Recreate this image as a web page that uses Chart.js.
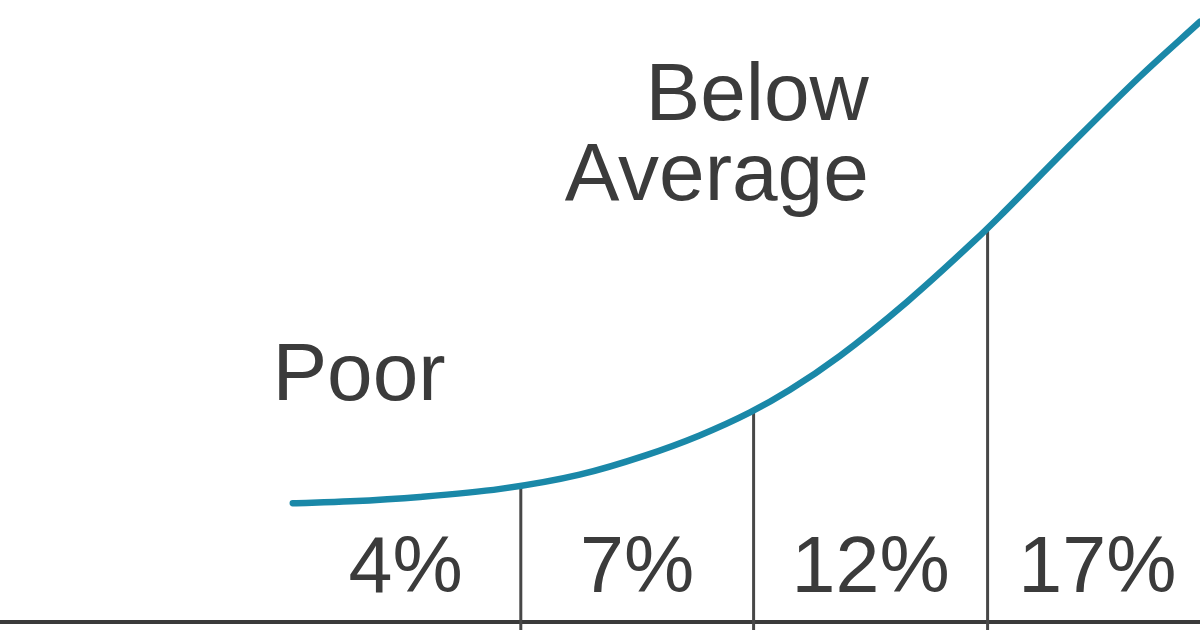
<!DOCTYPE html>
<html>
<head>
<meta charset="utf-8">
<script src="https://cdn.jsdelivr.net/npm/chart.js@4/dist/chart.umd.min.js"></script>
<style>
  html, body { margin: 0; padding: 0; background: #fff; }
  #wrap { width: 1200px; height: 630px; }
</style>
</head>
<body>
<div id="wrap"><canvas id="curve" width="1200" height="630"></canvas></div>
<script>
// --- DATA ---
// curve (x: position along the scale, y: height above baseline)
const curveX = [24.4, 29.2, 35, 41.7, 48.3, 53.8, 58.3, 62.5, 65.8, 70, 75.6, 81.1, 83.3, 89.2, 95, 100];
const curveY = [19.1, 19.4, 20.1, 21.4, 23.7, 26.8, 30.0, 33.7, 37.3, 42.8, 51.5, 61.1, 65.2, 76.7, 87.7, 96.5];

// band edges: curve start, the three dividers, right edge
const bandEdges = [24.2, 43.4, 62.8, 82.3, 100.6];
const bandLabels = ['4%', '7%', '12%', '17%'];

const regionLabels = [['Poor'], ['Below', 'Average']];

// --- STYLE / PLACEMENT ---
const LINE_BLUE = '#1a88a8';
const INK = '#3b3b3b';
const FONT = '"Liberation Sans", Arial, sans-serif';
const Y_MIN = -1.286;
const Y_MAX = 100;

const regionPlace = [
  { x: 22.7, y: 35.7, align: 'left', step: 0 },
  { x: 72.4, y: 80.7, align: 'right', step: 12.9 }
];

// value of curve at x (linear between read points), used for divider tops
function curveAt(x) {
  for (let i = 1; i < curveX.length; i++) {
    if (x <= curveX[i]) {
      const t = (x - curveX[i - 1]) / (curveX[i] - curveX[i - 1]);
      return curveY[i - 1] + t * (curveY[i] - curveY[i - 1]);
    }
  }
  return curveY[curveY.length - 1];
}

const curvePts = curveX.map((x, i) => ({ x, y: curveY[i] }));
const dividers = bandEdges.slice(1, -1).map(x => ({
  data: [{ x, y: Y_MIN }, { x, y: curveAt(x) - 0.3 }],
  borderColor: '#474747',
  borderWidth: 3,
  pointRadius: 0,
  tension: 0,
  order: 2
}));

// --- TEXT PLUGIN ---
const textPlugin = {
  id: 'bandText',
  afterDatasetsDraw(chart) {
    const { ctx, scales: { x, y } } = chart;
    ctx.save();
    ctx.fillStyle = INK;
    ctx.textBaseline = 'alphabetic';

    // percentages, centred in each band
    ctx.font = '79px ' + FONT;
    ctx.textAlign = 'center';
    bandLabels.forEach((lab, i) => {
      const cx = (bandEdges[i] + bandEdges[i + 1]) / 2;
      ctx.fillText(lab, x.getPixelForValue(cx), y.getPixelForValue(4.8));
    });

    // region names
    ctx.font = '82px ' + FONT;
    regionLabels.forEach((lines, i) => {
      const p = regionPlace[i];
      ctx.textAlign = p.align;
      lines.forEach((ln, j) => {
        ctx.fillText(ln, x.getPixelForValue(p.x), y.getPixelForValue(p.y - j * p.step));
      });
    });
    ctx.restore();
  }
};

window.onload = () => {
  const ctx = document.getElementById('curve').getContext('2d');
  new Chart(ctx, {
    type: 'line',
    data: {
      datasets: [
        {
          data: curvePts,
          borderColor: LINE_BLUE,
          borderWidth: 6.5,
          pointRadius: 0,
          cubicInterpolationMode: 'monotone',
          borderCapStyle: 'round',
          order: 1
        },
        {
          data: [{ x: 0, y: 0 }, { x: 100, y: 0 }],
          borderColor: '#3a3a3a',
          borderWidth: 4,
          pointRadius: 0,
          order: 3
        },
        ...dividers
      ]
    },
    options: {
      responsive: false,
      animation: false,
      layout: { padding: 0 },
      clip: false,
      scales: {
        x: { type: 'linear', display: false, min: 0, max: 100 },
        y: { type: 'linear', display: false, min: Y_MIN, max: Y_MAX }
      },
      plugins: { legend: { display: false }, tooltip: { enabled: false } }
    },
    plugins: [textPlugin]
  });
};
</script>
</body>
</html>
